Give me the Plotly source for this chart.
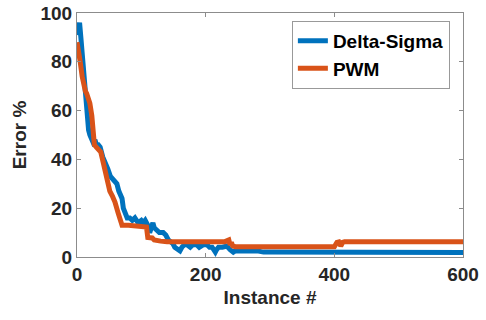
import plotly.graph_objects as go

ds_x = [0,2,4,6,8,10,12,14,16,18,
        20,22,25,28,30,33,36,40,44,48,
        52,56,60,62,65,68,70,72,75,78,
        82,86,90,95,100,103,106,110,113,116,
        118,120,124,128,134,138,142,146,149,152,
        156,160,163,167,171,176,180,186,190,196,
        202,206,210,213,215,217,220,226,233,238,
        241,243,246,250,260,270,280,290,300,320,
        600]
ds_y = [91,95,96,90,84,76,68,61,55,52,
        50,48,47,48,46,46,45,41,39,36,
        33,32,31,30,27,25,24,20,17,16,
        16,15,16,14,15,14,15,13,10,12,
        14,12,11,10,10,9,7,6,5.5,4,
        3,2.5,4,5,5,4,5,5,4,5,
        5,4,4,3,2,3,4,4,4.5,3,
        2,2,2.5,2.5,3,2.5,2.5,2,2,2,
        1.8]

pwm_x = [0,3,5,8,10,13,15,18,20,23,
         25,27,30,35,37,41,46,51,55,59,
         64,67,70,80,100,108,110,114,117,120,
         124,130,140,148,160,200,230,236,238,240,
         242,246,300,400,404,407,410,413,416,420,
         600]
pwm_y = [88,84,80,74,71,68,67,65,63,58,
         52,46,45,44,43,38.5,31.5,27,25,22.5,
         18,15,13,13,12.5,12.3,8,8,7.8,7,
         7,6.5,6.3,6.3,6.3,6.3,6.3,7,5,6,
         4.5,4.2,4.2,4.2,6,6.2,4.5,6,6.3,6.3,
         6.3]

x_ticks = [0, 200, 400, 600]
y_ticks = [0, 20, 40, 60, 80, 100]

fig = go.Figure()
fig.add_trace(go.Scatter(x=ds_x, y=ds_y, mode="lines", name="Delta-Sigma",
                         line=dict(color="#0072BD", width=5)))
fig.add_trace(go.Scatter(x=pwm_x, y=pwm_y, mode="lines", name="PWM",
                         line=dict(color="#D95319", width=5)))

axfont = dict(family="Arial, Liberation Sans", size=19, color="#262626", weight="bold")
common = dict(showline=True, linecolor="#8c8c8c", linewidth=1, mirror="ticks",
              ticks="inside", ticklen=4, tickcolor="#8c8c8c", showgrid=False,
              zeroline=False, tickfont=axfont, automargin=False)
fig.update_xaxes(range=[0, 600], tickvals=x_ticks,
                 title=dict(text="Instance #", font=axfont, standoff=6), **common)
fig.update_yaxes(range=[0, 100], tickvals=y_ticks,
                 title=dict(text="Error %", font=axfont, standoff=8), **common)

fig.update_layout(
    width=486, height=320,
    margin=dict(l=77, r=23, t=13, b=63),
    paper_bgcolor="white", plot_bgcolor="white",
    showlegend=True,
    legend=dict(x=0.966, y=0.968, xanchor="right", yanchor="top",
                bgcolor="white", bordercolor="#999999", borderwidth=1,
                font=dict(family="Arial, Liberation Sans", size=19, color="#000000", weight="bold"),
                itemwidth=30, tracegroupgap=0),
)
fig.write_html("out.html", config={"displayModeBar": False},
               post_script="document.body.style.margin='0';document.body.style.overflow='hidden';")
